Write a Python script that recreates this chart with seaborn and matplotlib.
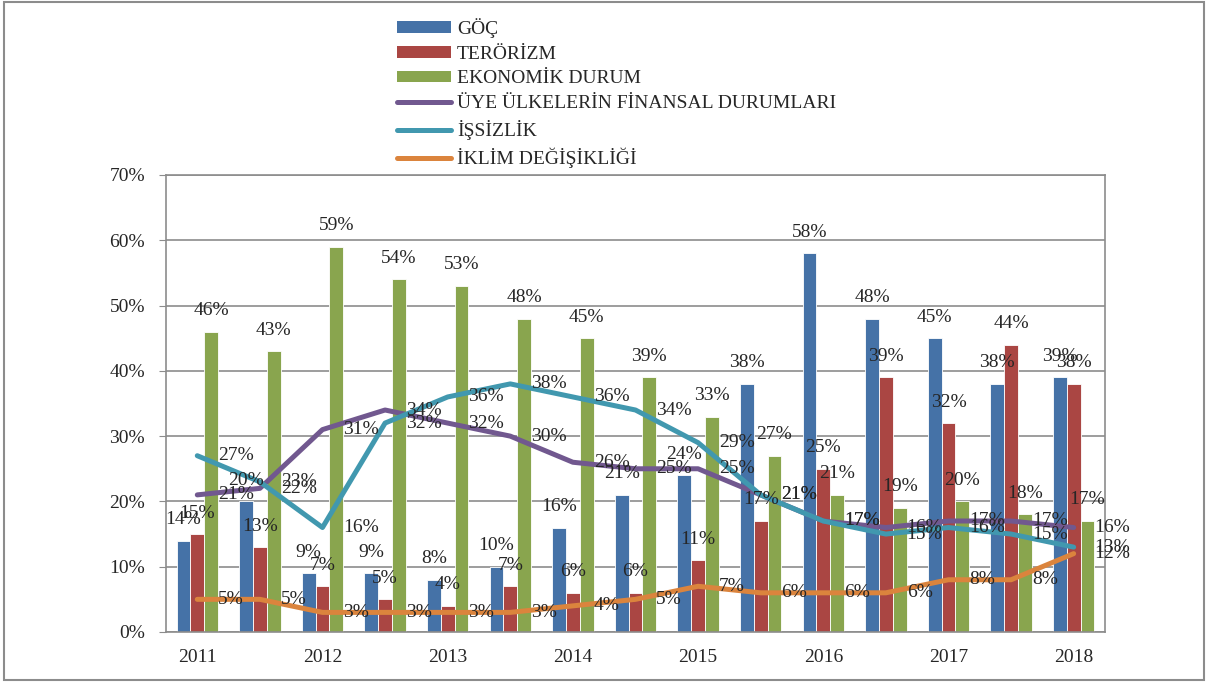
import numpy as np
import pandas as pd
import matplotlib
matplotlib.use("Agg")
import matplotlib.pyplot as plt
import seaborn as sns
from matplotlib.patches import Patch, Rectangle
from matplotlib.lines import Line2D

# survey rounds (two per year), labels only on every second round
years = ["2011", "2012", "2013", "2014", "2015", "2016", "2017", "2018"]
rounds = list(range(15))

goc = [14, 20, 9, 9, 8, 10, 16, 21, 24, 38, 58, 48, 45, 38, 39]
terorizm = [15, 13, 7, 5, 4, 7, 6, 6, 11, 17, 25, 39, 32, 44, 38]
ekonomik = [46, 43, 59, 54, 53, 48, 45, 39, 33, 27, 21, 19, 20, 18, 17]
finansal = [21, 22, 31, 34, 32, 30, 26, 25, 25, 21, 17, 16, 17, 17, 16]
issizlik = [27, 23, 16, 32, 36, 38, 36, 34, 29, 21, 17, 15, 16, 15, 13]
iklim = [5, 5, 3, 3, 3, 3, 4, 5, 7, 6, 6, 6, 8, 8, 12]

bar_names = ["GÖÇ", "TERÖRİZM", "EKONOMİK DURUM"]
line_names = ["ÜYE ÜLKELERİN FİNANSAL DURUMLARI", "İŞSİZLİK", "İKLİM DEĞİŞİKLİĞİ"]
bar_colors = ["#4572A7", "#AA4643", "#89A54E"]
line_colors = ["#71588F", "#4198AF", "#DB843D"]

bars = pd.DataFrame({
    "round": rounds * 3,
    "konu": [n for n in bar_names for _ in rounds],
    "deger": goc + terorizm + ekonomik,
})

sns.set_style("white")
plt.rcParams["font.family"] = ["Liberation Serif", "DejaVu Serif"]
plt.rcParams["font.size"] = 14

fig = plt.figure(figsize=(12.08, 6.83), dpi=100)
ax = fig.add_axes([0.1374, 0.0747, 0.7773, 0.6691])

sns.barplot(data=bars, x="round", y="deger", hue="konu", hue_order=bar_names,
            palette=bar_colors, width=0.66, saturation=1, edgecolor="white",
            linewidth=0.6, legend=False, ax=ax)

for cont in ax.containers:
    vals = [int(round(b.get_height())) for b in cont]
    ax.bar_label(cont, labels=[f"{v}%" for v in vals], padding=9, fontsize=14)

for vals, name, col in zip([finansal, issizlik, iklim], line_names, line_colors):
    sns.lineplot(x=rounds, y=vals, color=col, linewidth=3.6, ax=ax,
                 solid_capstyle="round", solid_joinstyle="round")
    for r, v in zip(rounds, vals):
        ax.annotate(f"{v}%", (r, v), xytext=(15, 0), textcoords="offset points",
                    ha="left", va="center", fontsize=14)

ax.set_ylim(0, 70)
ax.set_xlim(-0.5, 14.5)
ax.set_yticks(range(0, 71, 10))
ax.set_yticklabels([f"{t}%" for t in range(0, 71, 10)])
ax.set_xticks(rounds[::2])
ax.set_xticklabels(years)
ax.set_xlabel("")
ax.set_ylabel("")
ax.yaxis.grid(True, color="#8c8c8c", linewidth=1.2)
ax.set_axisbelow(True)
ax.tick_params(axis="y", length=5, color="#8c8c8c", pad=10, labelsize=14, left=True)
ax.tick_params(axis="x", length=0, pad=12, labelsize=14)
for s in ax.spines.values():
    s.set_color("#8c8c8c")
    s.set_linewidth(1.2)

handles = [Patch(facecolor=c, edgecolor="none") for c in bar_colors]
handles += [Line2D([], [], color=c, linewidth=3.6, solid_capstyle="round") for c in line_colors]
fig.legend(handles, bar_names + line_names, loc="upper left",
           bbox_to_anchor=(0.322, 0.985), frameon=False, fontsize=14,
           handlelength=2.8, handleheight=0.55, handletextpad=0.3,
           labelspacing=0.4, borderaxespad=0)

fig.patches.append(Rectangle((4 / 1208, 3 / 683), 1200 / 1208, 678 / 683,
                             transform=fig.transFigure, fill=False,
                             edgecolor="#8c8c8c", linewidth=1.5))

fig.savefig("out.png", dpi=100)
